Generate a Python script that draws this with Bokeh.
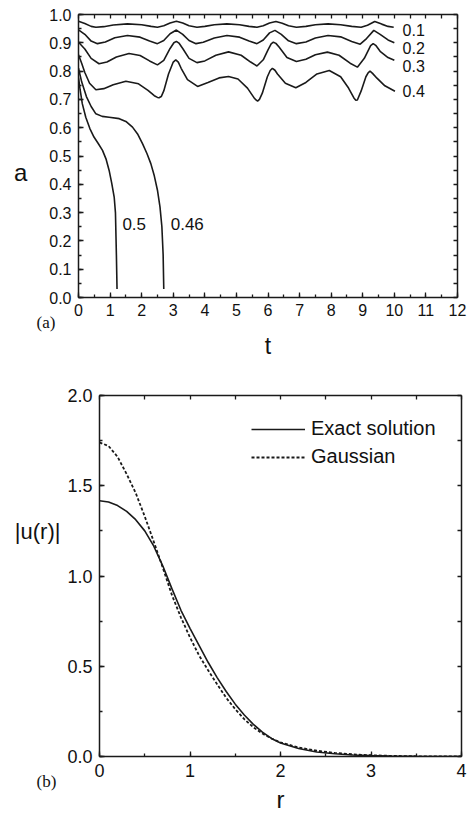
from bokeh.plotting import figure
from bokeh.models import (LinearAxis, SingleIntervalTicker, FixedTicker, Range1d, Label,
                          Legend, LegendItem, NumeralTickFormatter, Title)
from bokeh.embed import file_html
from bokeh.resources import INLINE

# ---------------- data: panel (a) ----------------
t_01 = [0.0, 0.2, 0.4, 0.55, 0.8, 1.1, 1.55, 2.0, 2.3, 2.5, 2.7, 2.9, 3.1, 3.3, 3.5, 3.75, 4.0, 4.3, 4.7,
        5.1, 5.4, 5.65, 5.85, 6.05, 6.25, 6.45, 6.65, 6.9, 7.2, 7.5, 7.9, 8.3, 8.65, 8.95, 9.15, 9.38, 9.6, 9.8, 9.98]
a_01 = [0.976, 0.968, 0.958, 0.955, 0.957, 0.963, 0.967, 0.964, 0.958, 0.955, 0.960, 0.970, 0.976, 0.970, 0.960,
        0.955, 0.958, 0.964, 0.967, 0.964, 0.958, 0.955, 0.960, 0.970, 0.975, 0.969, 0.960, 0.955, 0.958, 0.964,
        0.967, 0.964, 0.958, 0.955, 0.962, 0.975, 0.966, 0.958, 0.955]

t_02 = [0.0, 0.2, 0.4, 0.6, 0.85, 1.15, 1.55, 1.95, 2.25, 2.5, 2.7, 2.9, 3.1, 3.3, 3.5, 3.72, 3.95, 4.3, 4.7,
        5.1, 5.4, 5.65, 5.85, 6.05, 6.22, 6.42, 6.65, 6.9, 7.2, 7.5, 7.9, 8.3, 8.65, 8.92, 9.12, 9.35, 9.55, 9.8, 10.0]
a_02 = [0.946, 0.930, 0.906, 0.897, 0.903, 0.918, 0.926, 0.920, 0.906, 0.897, 0.908, 0.932, 0.945, 0.930, 0.908,
        0.897, 0.902, 0.917, 0.926, 0.920, 0.906, 0.897, 0.910, 0.935, 0.944, 0.930, 0.907, 0.897, 0.903, 0.917,
        0.926, 0.921, 0.905, 0.895, 0.915, 0.944, 0.930, 0.910, 0.900]

t_03 = [0.0, 0.2, 0.4, 0.65, 0.9, 1.2, 1.6, 1.95, 2.25, 2.5, 2.7, 2.9, 3.02, 3.1, 3.18, 3.3, 3.5, 3.75, 4.0,
        4.35, 4.75, 5.15, 5.45, 5.65, 5.85, 6.0, 6.1, 6.17, 6.25, 6.35, 6.6, 6.9, 7.2, 7.5, 7.88, 8.25, 8.6, 8.83,
        9.05, 9.25, 9.33, 9.41, 9.55, 9.8, 10.0]
a_03 = [0.902, 0.878, 0.845, 0.826, 0.832, 0.850, 0.862, 0.855, 0.836, 0.822, 0.838, 0.880, 0.900, 0.905, 0.899,
        0.880, 0.845, 0.830, 0.836, 0.856, 0.868, 0.856, 0.832, 0.818, 0.840, 0.875, 0.896, 0.902, 0.898, 0.885,
        0.848, 0.834, 0.842, 0.858, 0.867, 0.856, 0.828, 0.814, 0.845, 0.890, 0.897, 0.891, 0.870, 0.848, 0.838]

t_04 = [0.0, 0.1, 0.2, 0.35, 0.55, 0.8, 1.1, 1.5, 1.9, 2.2, 2.4, 2.5, 2.55, 2.62, 2.7, 2.85, 3.0, 3.08, 3.16,
        3.25, 3.45, 3.77, 4.1, 4.45, 4.75, 5.05, 5.35, 5.55, 5.62, 5.67, 5.73, 5.82, 5.98, 6.07, 6.14, 6.22, 6.3,
        6.55, 6.88, 7.2, 7.55, 7.94, 8.3, 8.55, 8.72, 8.78, 8.83, 8.95, 9.1, 9.17, 9.23, 9.31, 9.45, 9.7, 10.02]
a_04 = [0.858, 0.828, 0.795, 0.757, 0.734, 0.738, 0.752, 0.764, 0.755, 0.732, 0.713, 0.707, 0.706, 0.710, 0.730,
        0.790, 0.832, 0.840, 0.832, 0.810, 0.770, 0.746, 0.760, 0.776, 0.781, 0.772, 0.740, 0.707, 0.698, 0.694,
        0.700, 0.722, 0.780, 0.802, 0.810, 0.803, 0.790, 0.757, 0.741, 0.760, 0.790, 0.802, 0.780, 0.740, 0.705,
        0.697, 0.698, 0.730, 0.780, 0.794, 0.800, 0.792, 0.775, 0.748, 0.729]

t_046 = [0.0, 0.1, 0.25, 0.4, 0.55, 0.75, 0.97, 1.29, 1.5, 1.71, 1.87, 2.03, 2.17, 2.29, 2.4, 2.5, 2.58, 2.64,
         2.68, 2.70]
a_046 = [0.810, 0.762, 0.710, 0.675, 0.649, 0.640, 0.637, 0.632, 0.622, 0.602, 0.578, 0.543, 0.508, 0.473, 0.430,
         0.379, 0.320, 0.250, 0.150, 0.030]

t_05 = [0.0, 0.05, 0.12, 0.23, 0.36, 0.49, 0.62, 0.76, 0.87, 0.97, 1.05, 1.13, 1.17, 1.20, 1.22]
a_05 = [0.777, 0.735, 0.685, 0.637, 0.597, 0.567, 0.545, 0.520, 0.490, 0.449, 0.405, 0.355, 0.300, 0.150, 0.030]

# ---------------- data: panel (b) ----------------
r_exact = [0.0, 0.1, 0.2, 0.3, 0.4, 0.5, 0.6, 0.7, 0.8, 0.9, 1.0, 1.1, 1.2, 1.3, 1.4, 1.5, 1.6, 1.7, 1.8, 1.9,
           2.0, 2.2, 2.4, 2.6, 2.8, 3.0, 3.2, 3.5, 4.0]
u_exact = [1.417, 1.410, 1.390, 1.358, 1.312, 1.250, 1.165, 1.055, 0.930, 0.810, 0.710, 0.615, 0.522, 0.437,
           0.360, 0.290, 0.230, 0.178, 0.135, 0.100, 0.075, 0.044, 0.025, 0.015, 0.008, 0.005, 0.003, 0.001, 0.0]
r_gauss = [0.0, 0.1, 0.2, 0.3, 0.4, 0.5, 0.6, 0.7, 0.8, 0.9, 1.0, 1.1, 1.2, 1.3, 1.4, 1.5, 1.6, 1.7, 1.8, 1.9,
           2.0, 2.2, 2.4, 2.6, 2.8, 3.0, 3.2, 3.5, 4.0]
u_gauss = [1.740, 1.720, 1.660, 1.565, 1.460, 1.330, 1.190, 1.045, 0.895, 0.770, 0.660, 0.560, 0.478, 0.400,
           0.325, 0.262, 0.207, 0.162, 0.127, 0.100, 0.078, 0.050, 0.032, 0.020, 0.012, 0.007, 0.004, 0.001, 0.0]

curve_a_names = ["0.1", "0.2", "0.3", "0.4", "0.46", "0.5"]
legend_names = ["Exact solution", "Gaussian"]

INK = "#1a1a1a"
SANS = "Liberation Sans"
SERIF = "Liberation Serif"


def style_axis(ax, fs, tick_major=5, tick_minor=3):
    ax.axis_line_color = INK
    ax.axis_line_width = 1.5
    ax.major_tick_in = tick_major
    ax.major_tick_out = 0
    ax.minor_tick_in = tick_minor
    ax.minor_tick_out = 0
    ax.major_tick_line_color = INK
    ax.minor_tick_line_color = INK
    ax.major_tick_line_width = 1.3
    ax.minor_tick_line_width = 1.3
    ax.major_label_text_font = SANS
    ax.major_label_text_color = "#111111"
    ax.major_label_text_font_size = fs
    ax.axis_label_text_font = SANS
    ax.axis_label_text_font_style = "normal"
    ax.axis_label_text_color = "#111111"


def mirror_axis(lo, hi, step):
    n = int(round((hi - lo) / step))
    ax = LinearAxis(ticker=FixedTicker(ticks=[], minor_ticks=[lo + i * step for i in range(n + 1)]))
    style_axis(ax, "10px", tick_minor=4)
    ax.major_label_standoff = 0
    return ax


def add_label(p, x, y, text, size):
    p.add_layout(Label(x=x, y=y, text=text, text_font=SANS, text_font_size=size,
                       text_color="#111111", text_align="left", text_baseline="alphabetic"))


def title(text, font, size, align, offset, standoff):
    return Title(text=text, text_font=font, text_font_size=size, text_font_style="normal",
                 text_color="#111111", align=align, vertical_align="top", offset=offset,
                 standoff=standoff)


# ---------------- figure (a) ----------------
p1 = figure(frame_width=379, frame_height=283, output_backend="svg", toolbar_location=None,
            x_range=Range1d(0, 12), y_range=Range1d(0, 1.0),
            min_border_left=78, min_border_right=10, min_border_top=14, min_border_bottom=88)
p1.outline_line_color = None
p1.grid.visible = False
p1.background_fill_color = "white"

p1.xaxis.ticker = SingleIntervalTicker(interval=1, num_minor_ticks=2)
p1.yaxis.ticker = SingleIntervalTicker(interval=0.1, num_minor_ticks=2)
p1.yaxis.formatter = NumeralTickFormatter(format="0.0")
for ax in p1.xaxis:
    style_axis(ax, "16px")
    ax.major_label_standoff = 6
for ax in p1.yaxis:
    style_axis(ax, "16px")
    ax.major_label_standoff = 7
    ax.axis_label = "\na"
    ax.axis_label_orientation = "horizontal"
    ax.axis_label_text_font_size = "24px"
    ax.axis_label_standoff = 19
p1.add_layout(mirror_axis(0, 12, 0.5), "above")
p1.add_layout(mirror_axis(0, 1.0, 0.05), "right")

for tt, aa in [(t_01, a_01), (t_02, a_02), (t_03, a_03), (t_04, a_04), (t_046, a_046), (t_05, a_05)]:
    p1.line(tt, aa, line_color=INK, line_width=1.6)

lab_pos = [(10.26, 0.945), (10.26, 0.883), (10.26, 0.818), (10.26, 0.730), (2.92, 0.259), (1.39, 0.259)]
for name, (x, y) in zip(curve_a_names, lab_pos):
    add_label(p1, x, y, name, "16px" if x > 5 else "17px")

p1.add_layout(title("(a)", SERIF, "17px", "left", -42, -12), "below")
p1.add_layout(title("t", SANS, "23px", "center", 0, 10), "below")

# ---------------- figure (b) ----------------
p2 = figure(frame_width=362, frame_height=361, output_backend="svg", toolbar_location=None,
            x_range=Range1d(0, 4), y_range=Range1d(0, 2.0),
            min_border_left=99, min_border_right=8, min_border_top=10, min_border_bottom=0)
p2.outline_line_color = None
p2.grid.visible = False
p2.background_fill_color = "white"

p2.xaxis.ticker = SingleIntervalTicker(interval=1, num_minor_ticks=2)
p2.yaxis.ticker = SingleIntervalTicker(interval=0.5, num_minor_ticks=2)
p2.yaxis.formatter = NumeralTickFormatter(format="0.0")
for ax in p2.xaxis:
    style_axis(ax, "18px")
    ax.major_label_standoff = 7
for ax in p2.yaxis:
    style_axis(ax, "18px")
    ax.major_label_standoff = 7
    ax.axis_label = "|u(r)|\n\n\n"
    ax.axis_label_orientation = "horizontal"
    ax.axis_label_text_font_size = "22px"
    ax.axis_label_standoff = 4
p2.add_layout(mirror_axis(0, 4, 0.5), "above")
p2.add_layout(mirror_axis(0, 2.0, 0.25), "right")

r_ex = p2.line(r_exact, u_exact, line_color=INK, line_width=1.6)
r_ga = p2.line(r_gauss, u_gauss, line_color=INK, line_width=1.8, line_dash="3 2")

legend = Legend(items=[LegendItem(label=legend_names[0], renderers=[r_ex]),
                       LegendItem(label=legend_names[1], renderers=[r_ga])],
                location=(152, 288), glyph_width=54, glyph_height=22, label_standoff=6,
                spacing=5, padding=0, margin=0, border_line_color=None,
                background_fill_alpha=0, label_text_font=SANS, label_text_font_size="20px",
                label_text_color="#111111")
p2.add_layout(legend)

p2.add_layout(title("(b)", SERIF, "17px", "left", -63, -15), "below")
p2.add_layout(title("r", SANS, "24px", "center", 0, 0), "below")

open("out.html", "w").write(file_html([p1, p2], INLINE))
